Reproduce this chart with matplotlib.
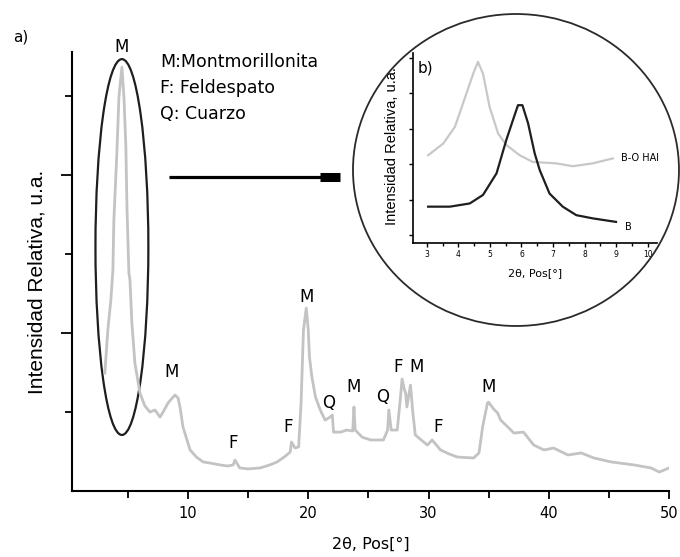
import matplotlib
matplotlib.use("Agg")
import matplotlib.pyplot as plt
from matplotlib.patches import Ellipse

# -----------------------------
# Data
# -----------------------------
# main XRD pattern, 2theta (deg) vs relative intensity
two_theta = [3.08, 3.33, 3.58, 3.75, 3.83, 4.08, 4.25, 4.5, 4.67, 4.83, 4.92, 5.08,
             5.17, 5.33, 5.58, 6.0, 6.4, 6.83, 7.25, 7.67, 8.0, 8.33, 8.7, 8.92,
             9.17, 9.33, 9.58, 10.17, 10.7, 11.25, 11.83, 12.67, 13.3, 13.75, 13.9, 14.3,
             15.0, 16.0, 16.8, 17.4, 18.0, 18.5, 18.6, 18.9, 19.2, 19.4, 19.6, 19.83,
             20.0, 20.1, 20.3, 20.6, 21.0, 21.4, 21.8, 22.0, 22.1, 22.7, 23.2, 23.7,
             23.8, 23.9, 24.5, 25.2, 26.25, 26.6, 26.7, 26.9, 27.4, 27.7, 27.8, 28.0,
             28.1, 28.2, 28.5, 28.7, 28.9, 29.9, 30.3, 31.0, 31.7, 32.4, 33.75, 34.2,
             34.5, 34.9, 35.0, 35.4, 35.75, 36.0, 36.6, 37.1, 37.9, 38.75, 39.6, 40.4,
             41.6, 42.7, 43.75, 45.2, 47.1, 48.5, 49.2, 50.0]
intensity = [747, 1019, 1209, 1399, 1715, 2140, 2494, 2684, 2494, 2178, 1798, 1380,
             1336, 1063, 810, 620, 540, 500, 513, 468, 510, 557, 590, 608,
             589, 532, 405, 260, 215, 184, 177, 165, 158, 165, 196, 146,
             140, 146, 165, 184, 215, 247, 310, 272, 280, 557, 1019, 1158,
             1019, 848, 722, 595, 513, 449, 468, 481, 373, 373, 386, 380,
             532, 386, 340, 323, 323, 386, 513, 386, 386, 620, 709, 640,
             620, 532, 671, 494, 355, 291, 323, 260, 235, 215, 209, 241,
             405, 557, 563, 520, 494, 449, 405, 367, 373, 291, 260, 272,
             228, 241, 209, 184, 165, 146, 120, 146]

# peak labels
peak_names = ["M", "M", "F", "F", "M", "Q", "M", "Q", "F", "M", "F", "M"]
peak_x = [4.5, 8.67, 13.75, 18.33, 19.83, 21.67, 23.75, 26.17, 27.5, 29.0, 30.83, 35.0]
peak_label_y = [2811, 753, 304, 405, 1228, 557, 658, 595, 785, 785, 405, 658]

legend_lines = ["M:Montmorillonita", "F: Feldespato", "Q: Cuarzo"]

# inset b): basal reflection of the two samples
inset_x_gray = [3.04, 3.52, 3.89, 4.2, 4.47, 4.62, 4.78, 4.99, 5.26, 5.52, 5.94, 6.36,
                7.1, 7.63, 8.26, 8.9]
inset_y_gray = [2.25, 2.58, 3.05, 3.85, 4.55, 4.88, 4.55, 3.61, 2.86, 2.54, 2.25, 2.06,
                2.02, 1.94, 2.02, 2.16]
inset_x_black = [3.04, 3.73, 4.36, 4.78, 5.21, 5.52, 5.73, 5.89, 6.03, 6.21, 6.42, 6.58,
                 6.89, 7.31, 7.74, 8.26, 9.0]
inset_y_black = [0.8, 0.8, 0.89, 1.13, 1.74, 2.68, 3.24, 3.66, 3.66, 3.15, 2.3, 1.83,
                 1.17, 0.8, 0.56, 0.47, 0.37]
inset_ticks = [3, 4, 5, 6, 7, 8, 9, 10]

GRAY = "#c3c3c3"
DARK = "#1e1e1e"

# -----------------------------
# Figure
# -----------------------------
fig = plt.figure(figsize=(6.8, 5.57), dpi=100)
ax = fig.add_axes([0.1059, 0.1185, 0.8779, 0.7881])

ax.plot(two_theta, intensity, color=GRAY, linewidth=2.0)

ax.set_xlim(0.35, 50)
ax.set_ylim(0, 2780)
ax.set_xticks([10, 20, 30, 40, 50])
ax.set_xticks([5, 15, 25, 35, 45], minor=True)
ax.set_yticks([1000, 2000])
ax.set_yticks([500, 1500, 2500], minor=True)
ax.set_yticklabels([])
ax.tick_params(axis="x", which="major", length=6, width=1.3, labelsize=10.5, pad=5)
ax.tick_params(axis="x", which="minor", length=5, width=1.3)
ax.tick_params(axis="y", which="major", length=8, width=1.3)
ax.tick_params(axis="y", which="minor", length=5, width=1.3)
for side in ("top", "right"):
    ax.spines[side].set_visible(False)
for side in ("left", "bottom"):
    ax.spines[side].set_linewidth(1.5)

ax.set_xlabel("2θ, Pos[°]", fontsize=11.5)
ax.xaxis.set_label_coords(0.5, -0.105)
ax.set_ylabel("Intensidad Relativa, u.a.", fontsize=15, family="Liberation Sans")
ax.yaxis.set_label_coords(-0.043, 0.476)

for name, px, py in zip(peak_names, peak_x, peak_label_y):
    ax.text(px, py, name, ha="center", va="center", fontsize=12, clip_on=False)

for i, line in enumerate(legend_lines):
    ax.text(7.67, 2716 - i * 165, line, ha="left", va="center", fontsize=12.5)

# ellipse around the first basal peak
ax.add_patch(Ellipse((4.5, 1545), 4.4, 2380, fill=False, edgecolor=DARK, linewidth=1.6))

# arrow towards the inset
ax.plot([8.4, 21.2], [1988, 1988], color="black", linewidth=2.3, solid_capstyle="butt")
ax.plot([21.0, 22.6], [1988, 1988], color="black", linewidth=6.5, solid_capstyle="butt")

fig.text(13 / 680, 1 - 37 / 557, "a)", ha="left", va="center", fontsize=11)

# circle around inset
fig.add_artist(Ellipse((0.7588, 0.6948), 0.4794, 0.5601, transform=fig.transFigure,
                       fill=False, edgecolor="#2a2a2a", linewidth=1.3))

# -----------------------------
# Inset b)
# -----------------------------
ax_in = fig.add_axes([0.6069, 0.5637, 0.3593, 0.3411])
ax_in.plot(inset_x_gray, inset_y_gray, color="#c8c8c8", linewidth=1.6)
ax_in.plot(inset_x_black, inset_y_black, color=DARK, linewidth=1.6)
ax_in.set_xlim(2.55, 10.3)
ax_in.set_ylim(-0.225, 5.13)
ax_in.set_xticks(inset_ticks)
ax_in.set_xticks([3.5, 4.5, 5.5, 6.5, 7.5, 8.5, 9.5], minor=True)
ax_in.set_yticks([0, 1, 2, 3, 4, 5])
ax_in.set_yticklabels([])
ax_in.tick_params(axis="x", which="major", length=3, width=1.0, labelsize=5.5, pad=2)
ax_in.tick_params(axis="x", which="minor", length=2.5, width=1.0)
ax_in.tick_params(axis="y", length=3, width=1.0)
for side in ("top", "right"):
    ax_in.spines[side].set_visible(False)
for side in ("left", "bottom"):
    ax_in.spines[side].set_linewidth(1.2)
ax_in.patch.set_alpha(0)

ax_in.set_xlabel("2θ, Pos[°]", fontsize=8)
ax_in.xaxis.set_label_coords(0.5, -0.13)
ax_in.set_ylabel("Intensidad Relativa, u.a.", fontsize=10.5, family="Liberation Sans")
ax_in.yaxis.set_label_coords(-0.058, 0.51)

ax_in.text(0.022, 0.92, "b)", transform=ax_in.transAxes, ha="left", va="center", fontsize=11)
ax_in.text(9.17, 2.17, "B-O HAl", ha="left", va="center", fontsize=7, clip_on=False)
ax_in.text(9.3, 0.23, "B", ha="left", va="center", fontsize=7, clip_on=False)

fig.savefig("out.png", dpi=100)
